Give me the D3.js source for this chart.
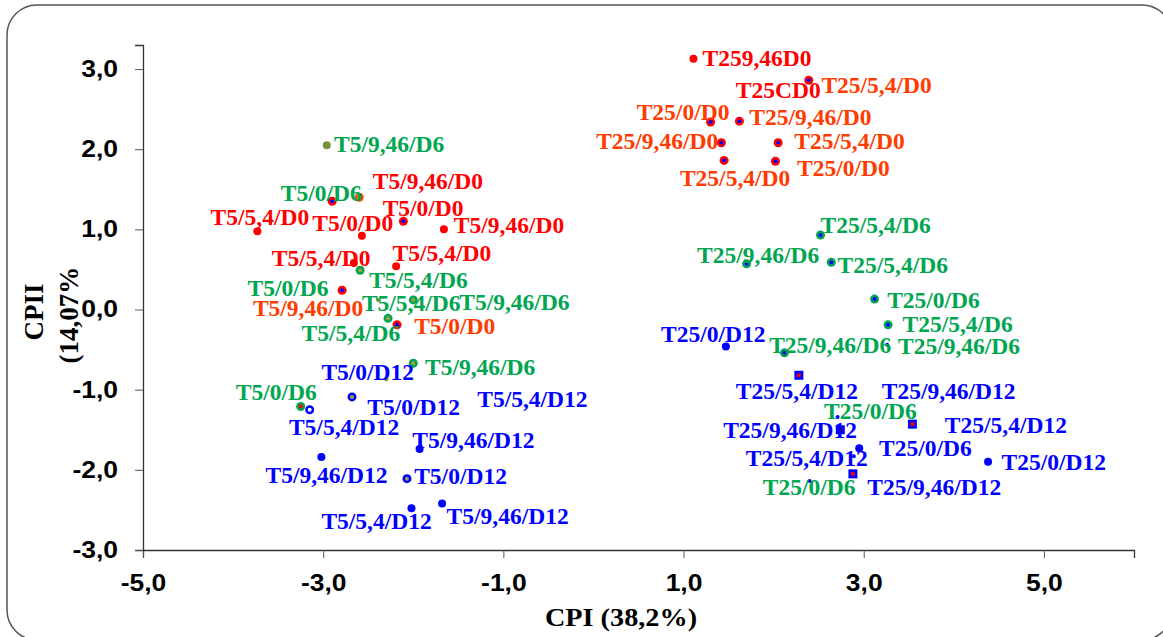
<!DOCTYPE html>
<html>
<head>
<meta charset="utf-8">
<script src="https://cdn.jsdelivr.net/npm/d3@7"></script>
<style>
  body { margin: 0; background: #fff; }
  svg { display: block; }
</style>
</head>
<body>
<script>
// tick values
const xTicks = [-5, -3, -1, 1, 3, 5];
const yTicks = [-3, -2, -1, 0, 1, 2, 3];

// scores on the two axes, with the marker kind of each point
const pointX = [1.11, 2.39, 1.30, 1.62, 1.42, 2.05, 1.45, 2.02,
  -2.96, -2.90, -2.60, -3.73, -2.57, -2.11, -1.66, -2.66, -2.19, -2.59, -2.79, -3.04,
  -2.39, -2.00, -2.28, -2.18, -2.00, -2.30, -2.68, -3.25, -3.15, -1.93, -3.02, -2.07,
  -2.02, -1.68,
  2.52, 1.70, 2.64, 3.12, 3.27, 3.26, 1.47, 2.12, 2.28, 2.71, 2.74, 3.54, 2.95, 2.89,
  4.38, 2.88, 2.40];
const pointY = [3.13, 2.86, 2.34, 2.35, 2.08, 2.08, 1.86, 1.85,
  2.05, 1.35, 1.40, 0.975, 0.92, 1.10, 1.00, 0.58, 0.54, 0.49, 0.24, 0.29,
  0.12, 0.12, -0.11, -0.19, -0.67, -0.87, -1.09, -1.21, -1.25, -1.74, -1.84, -2.11,
  -2.48, -2.42,
  0.93, 0.57, 0.59, 0.13, -0.19, -0.44, -0.46, -0.54, -0.82, -1.34, -1.50, -1.43, -1.73, -1.83,
  -1.90, -2.05, -2.14];
const pointKind = ["R", "RB", "RB", "RB", "RB", "RB", "RB", "RB",
  "OL", "RB", "OO", "R", "R", "RB", "R", "R", "R", "GO", "RB", "so",
  "so", "GO", "GO", "RB", "GO", "so", "BO", "GR", "BW", "B", "B", "BO",
  "B", "B",
  "GB", "GB", "GB", "GB", "GB", "sb", "B", "GB", "BS", "sb", "BS", "BS", "B", "sb",
  "B", "BS", "sb"];

// data labels: text, anchor (start, baseline) in axis units, colour group
const labelText = ["T259,46D0", "T25/5,4/D0", "T25CD0", "T25/0/D0", "T25/9,46/D0", "T25/9,46/D0",
  "T25/5,4/D0", "T25/0/D0", "T25/5,4/D0",
  "T5/9,46/D6", "T5/9,46/D0", "T5/0/D6", "T5/5,4/D0", "T5/0/D0", "T5/0/D0", "T5/9,46/D0",
  "T5/5,4/D0", "T5/5,4/D0", "T5/5,4/D6", "T5/0/D6", "T5/9,46/D0", "T5/5,4/D6", "T5/9,46/D6",
  "T5/0/D0", "T5/5,4/D6",
  "T5/9,46/D6", "T5/0/D12", "T5/0/D6", "T5/0/D12", "T5/5,4/D12", "T5/5,4/D12", "T5/9,46/D12",
  "T5/9,46/D12", "T5/0/D12", "T5/5,4/D12", "T5/9,46/D12",
  "T25/5,4/D6", "T25/9,46/D6", "T25/5,4/D6", "T25/0/D6", "T25/5,4/D6", "T25/0/D12",
  "T25/9,46/D6", "T25/9,46/D6", "T25/5,4/D12", "T25/9,46/D12", "T25/0/D6", "T25/9,46/D12",
  "T25/5,4/D12", "T25/5,4/D12", "T25/0/D6", "T25/0/D12", "T25/0/D6", "T25/9,46/D12"];
const labelX = [1.21, 2.53, 1.58, 0.48, 1.73, 0.03, 2.23, 2.26, 0.96,
  -2.88, -2.45, -3.47, -4.25, -2.34, -3.12, -1.55, -3.57, -2.23, -2.49, -3.84, -3.78, -2.57,
  -1.49, -1.99, -3.24,
  -1.87, -3.02, -3.97, -2.51, -1.29, -3.38, -2.01, -3.64, -1.99, -3.02, -1.63,
  2.52, 1.15, 2.71, 3.26, 3.43, 0.75, 1.95, 3.38, 1.58, 3.20, 2.56, 1.44, 3.90, 1.69,
  3.17, 4.53, 1.88, 3.04];
const labelY = [3.04, 2.70, 2.64, 2.37, 2.30, 2.00, 2.00, 1.66, 1.54,
  1.97, 1.50, 1.35, 1.05, 1.17, 0.98, 0.96, 0.54, 0.60, 0.27, 0.17, -0.08, -0.02,
  0.00, -0.31, -0.39,
  -0.82, -0.88, -1.13, -1.31, -1.22, -1.57, -1.73, -2.17, -2.18, -2.74, -2.68,
  0.96, 0.58, 0.46, 0.02, -0.28, -0.41, -0.54, -0.56, -1.11, -1.11, -1.37, -1.60, -1.54,
  -1.95, -1.83, -2.00, -2.32, -2.32];
const labelTone = ["red", "orange", "red", "orange", "orange", "orange", "orange", "orange", "orange",
  "green", "red", "green", "red", "red", "red", "red", "red", "red", "green", "green",
  "orange", "green", "green", "orange", "green",
  "green", "blue", "green", "blue", "blue", "blue", "blue", "blue", "blue", "blue", "blue",
  "green", "green", "green", "green", "green", "blue", "green", "green", "blue", "blue",
  "green", "blue", "blue", "blue", "blue", "blue", "green", "blue"];

const w = 1163;
const h = 637;
const margin = {left: 143, right: 29, top: 45, bottom: 87};

const tones = {red: "#ff0000", orange: "#ff3b00", green: "#00a650", blue: "#0000ff"};
const olive = "#77933c";
// marker kinds: outer colour, inner colour, shape
const kinds = {
  R:  {c: "#ff0000", r: 4},
  RB: {c: "#ff0000", r: 4.5, inner: "#0000ff"},
  OL: {c: olive, r: 4},
  OO: {c: "#ff4a00", r: 4.5, inner: olive},
  GO: {c: "#00a650", r: 4.5, inner: "#a0a040"},
  GB: {c: "#00a650", r: 4.5, inner: "#0000ff"},
  GR: {c: "#00a650", r: 4.5, inner: "#ff0000"},
  B:  {c: "#0000ff", r: 4},
  BO: {c: "#0000ff", r: 4.5, inner: "#a0a040"},
  BW: {c: "#0000ff", r: 4.5, inner: "#ffffff"},
  BS: {c: "#0000ff", r: 4.5, inner: "#ff0000", square: true},
  sb: {c: "#0000ff", r: 2},
  so: {c: olive, r: 2}
};

const xScale = d3.scaleLinear().domain([-5, 6]).range([margin.left, w - margin.right]);
const yScale = d3.scaleLinear().domain([-3, 3.3]).range([h - margin.bottom, margin.top]);

const fmt = d3.formatLocale({decimal: ",", thousands: ".", grouping: [3], currency: ["", ""], minus: "-"}).format(".1f");

const svg = d3.select("body").append("svg").attr("width", w).attr("height", h);

svg.append("rect")
  .attr("x", 7).attr("y", 5)
  .attr("width", 1165).attr("height", 635)
  .attr("rx", 30).attr("ry", 30)
  .attr("fill", "#fff")
  .attr("stroke", "#555")
  .attr("stroke-width", 1.5);

const tickFont = "'Liberation Sans', Arial, sans-serif";
const serif = "'Liberation Serif', 'Times New Roman', serif";

const xAxis = svg.append("g")
  .attr("transform", "translate(0," + yScale(-3) + ")")
  .call(d3.axisBottom(xScale).tickValues(xTicks).tickFormat(fmt).tickSizeOuter(0).tickSize(8));
xAxis.select(".domain").attr("stroke", "#333").attr("stroke-width", 1.3);
xAxis.selectAll(".tick line").attr("stroke", "#555");
xAxis.selectAll(".tick text")
  .attr("y", 0).attr("dy", 0)
  .attr("transform", "translate(0,41) scale(1.15,1)")
  .attr("font-family", tickFont).attr("font-weight", "bold")
  .attr("font-size", 23).attr("fill", "#000");

const yAxis = svg.append("g")
  .attr("transform", "translate(" + xScale(-5) + ",0)")
  .call(d3.axisLeft(yScale).tickValues(yTicks).tickFormat(fmt).tickSizeOuter(0).tickSize(8));
yAxis.select(".domain").attr("stroke", "#333").attr("stroke-width", 1.3);
yAxis.selectAll(".tick line").attr("stroke", "#555");
yAxis.selectAll(".tick text")
  .attr("x", 0)
  .attr("transform", "translate(-25,0) scale(1.15,1)")
  .attr("font-family", tickFont).attr("font-weight", "bold")
  .attr("font-size", 23).attr("fill", "#000");

// markers
const pts = d3.range(pointX.length).map(i => ({x: pointX[i], y: pointY[i], k: kinds[pointKind[i]]}));
const mg = svg.append("g");
pts.forEach(p => {
  const cx = xScale(p.x), cy = yScale(p.y), k = p.k;
  if (k.square) {
    mg.append("rect").attr("x", cx - k.r).attr("y", cy - k.r)
      .attr("width", 2 * k.r).attr("height", 2 * k.r).attr("fill", k.c);
    mg.append("rect").attr("x", cx - 1.8).attr("y", cy - 1.8)
      .attr("width", 3.6).attr("height", 3.6).attr("fill", k.inner);
  } else {
    mg.append("circle").attr("cx", cx).attr("cy", cy).attr("r", k.r).attr("fill", k.c);
    if (k.inner) {
      mg.append("circle").attr("cx", cx).attr("cy", cy).attr("r", 2).attr("fill", k.inner);
    }
  }
});

// data labels
svg.append("g").selectAll("text")
  .data(d3.range(labelText.length))
  .enter()
  .append("text")
  .attr("x", i => xScale(labelX[i]))
  .attr("y", i => yScale(labelY[i]))
  .attr("fill", i => tones[labelTone[i]])
  .attr("font-family", serif)
  .attr("font-weight", "bold")
  .attr("font-size", 23.5)
  .text(i => labelText[i]);

// axis titles
svg.append("text")
  .attr("transform", "translate(" + 621 + ",626) scale(1.13,1)")
  .attr("text-anchor", "middle")
  .attr("font-family", serif).attr("font-weight", "bold").attr("font-size", 25)
  .text("CPI (38,2%)");

svg.append("text")
  .attr("transform", "translate(43,312) rotate(-90)")
  .attr("text-anchor", "middle")
  .attr("font-family", serif).attr("font-weight", "bold").attr("font-size", 27)
  .text("CPII");
svg.append("text")
  .attr("transform", "translate(78,315) rotate(-90)")
  .attr("text-anchor", "middle")
  .attr("font-family", serif).attr("font-weight", "bold").attr("font-size", 27)
  .text("(14,07%");
</script>
</body>
</html>
